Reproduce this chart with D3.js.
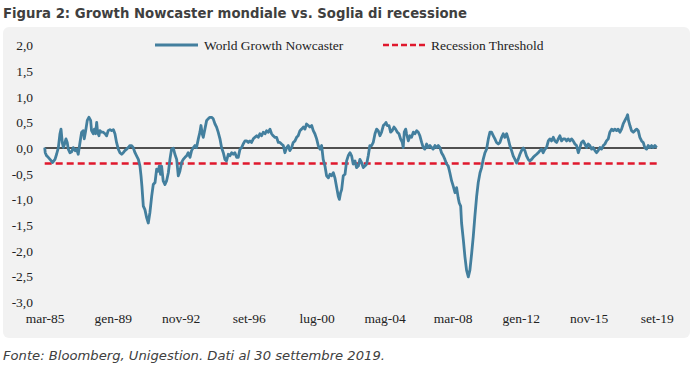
<!DOCTYPE html>
<html>
<head>
<meta charset="utf-8">
<script src="https://cdn.jsdelivr.net/npm/d3@7"></script>
<style>
  body { margin: 0; background: #fff; }
</style>
</head>
<body>
<script>
// dates as decimal years
const dates = [
  1985.17, 1985.20, 1985.28, 1985.37, 1985.47, 1985.62, 1985.75, 1985.84, 1985.94, 1986.03,
  1986.09, 1986.16, 1986.22, 1986.29, 1986.37, 1986.44, 1986.50, 1986.59, 1986.69, 1986.78,
  1986.88, 1986.97, 1987.06, 1987.16, 1987.25, 1987.35, 1987.40, 1987.48, 1987.57, 1987.66,
  1987.76, 1987.81, 1987.91, 1987.97, 1988.04, 1988.10, 1988.15, 1988.23, 1988.28, 1988.38,
  1988.47, 1988.57, 1988.66, 1988.75, 1988.85, 1988.94, 1989.04, 1989.13, 1989.22, 1989.32,
  1989.41, 1989.51, 1989.60, 1989.69, 1989.79, 1989.88, 1989.98, 1990.07, 1990.16, 1990.26,
  1990.35, 1990.45, 1990.54, 1990.60, 1990.65, 1990.73, 1990.82, 1990.92, 1991.01, 1991.10,
  1991.20, 1991.29, 1991.39, 1991.48, 1991.57, 1991.63, 1991.70, 1991.76, 1991.85, 1991.95,
  1992.04, 1992.14, 1992.23, 1992.32, 1992.42, 1992.51, 1992.61, 1992.70, 1992.79, 1992.89,
  1992.98, 1993.08, 1993.17, 1993.26, 1993.36, 1993.45, 1993.55, 1993.64,
  1993.73, 1993.83, 1993.92, 1993.98, 1994.05, 1994.11, 1994.20, 1994.30, 1994.39, 1994.48,
  1994.58, 1994.67, 1994.77, 1994.86, 1994.95, 1995.05, 1995.14, 1995.24, 1995.33, 1995.42,
  1995.52, 1995.61, 1995.71, 1995.80, 1995.89, 1995.99, 1996.08, 1996.18, 1996.27, 1996.36,
  1996.46, 1996.55, 1996.65, 1996.74, 1996.83, 1996.93, 1997.02, 1997.12, 1997.21, 1997.30,
  1997.40, 1997.49, 1997.59, 1997.68, 1997.77, 1997.87, 1997.96, 1998.05, 1998.15, 1998.24,
  1998.34, 1998.43, 1998.52, 1998.62, 1998.71, 1998.81, 1998.90, 1998.99, 1999.09, 1999.18,
  1999.28, 1999.37, 1999.46, 1999.56, 1999.65, 1999.75, 1999.84, 1999.93, 2000.03, 2000.12,
  2000.22, 2000.31, 2000.40, 2000.50, 2000.59, 2000.69, 2000.78, 2000.87, 2000.97, 2001.06,
  2001.16, 2001.25, 2001.34, 2001.44, 2001.53, 2001.63, 2001.72, 2001.78, 2001.85, 2001.91,
  2002.00, 2002.10, 2002.19, 2002.28, 2002.38, 2002.47, 2002.56, 2002.66, 2002.75, 2002.85,
  2002.94, 2003.03, 2003.13, 2003.22, 2003.32, 2003.41, 2003.50, 2003.60, 2003.69, 2003.79,
  2003.88, 2003.97, 2004.07, 2004.16, 2004.26, 2004.35, 2004.41, 2004.48, 2004.58, 2004.67,
  2004.76, 2004.86, 2004.95, 2005.05, 2005.14, 2005.23, 2005.33, 2005.38, 2005.44, 2005.52,
  2005.57, 2005.67, 2005.76, 2005.85, 2005.95, 2006.04, 2006.14, 2006.23, 2006.32, 2006.42,
  2006.51, 2006.60, 2006.70, 2006.79, 2006.89, 2006.98, 2007.07, 2007.17, 2007.26, 2007.36,
  2007.45, 2007.54, 2007.64, 2007.73, 2007.83, 2007.92, 2008.01, 2008.11, 2008.20, 2008.30,
  2008.39, 2008.48, 2008.54, 2008.62, 2008.67, 2008.77, 2008.86, 2008.95, 2009.05, 2009.14,
  2009.24, 2009.33, 2009.42, 2009.52, 2009.61, 2009.71, 2009.80, 2009.89, 2009.99, 2010.08,
  2010.18, 2010.27,
  2010.36, 2010.46, 2010.55, 2010.64, 2010.74, 2010.83, 2010.93, 2011.02, 2011.11, 2011.21,
  2011.30, 2011.39, 2011.49, 2011.58, 2011.68, 2011.77, 2011.86, 2011.96, 2012.05, 2012.15,
  2012.24, 2012.33, 2012.43, 2012.52, 2012.62, 2012.71, 2012.80, 2012.90, 2012.99, 2013.09,
  2013.18, 2013.27, 2013.37, 2013.46, 2013.56, 2013.65, 2013.74, 2013.84, 2013.93, 2014.03,
  2014.12, 2014.21, 2014.31, 2014.40, 2014.50, 2014.59, 2014.68, 2014.78, 2014.87, 2014.96,
  2015.06, 2015.15, 2015.25, 2015.34, 2015.43, 2015.53, 2015.62, 2015.72, 2015.81, 2015.90,
  2016.00, 2016.09, 2016.19, 2016.28, 2016.37, 2016.47, 2016.56, 2016.66, 2016.75, 2016.84,
  2016.94, 2017.03, 2017.13, 2017.22, 2017.31, 2017.41, 2017.50, 2017.60, 2017.69, 2017.78,
  2017.88, 2017.97, 2018.03, 2018.08, 2018.16, 2018.25, 2018.35, 2018.44, 2018.54, 2018.63,
  2018.72, 2018.82, 2018.91, 2019.00, 2019.10, 2019.19, 2019.29, 2019.38, 2019.47, 2019.57,
  2019.67
]

const nowcaster = [
  0.01, -0.09, -0.15, -0.18, -0.22, -0.28, -0.22, -0.12, 0.01, 0.28,
  0.37, 0.11, 0.01, 0.08, 0.18, 0.11, -0.02, -0.09, -0.07, 0.01,
  -0.05, -0.02, -0.12, 0.11, 0.31, 0.34, 0.18, 0.34, 0.54, 0.60,
  0.54, 0.34, 0.28, 0.37, 0.28, 0.50, 0.31, 0.24, 0.34, 0.31,
  0.31, 0.28, 0.24, 0.34, 0.36, 0.34, 0.36, 0.28, 0.11, -0.02,
  -0.09, -0.12, -0.09, -0.05, -0.02, 0.01, 0.05, 0.05, 0.01, -0.09,
  -0.15, -0.22, -0.35, -0.54, -0.74, -1.13, -1.20, -1.36, -1.46, -1.26,
  -0.94, -0.71, -0.67, -0.41, -0.45, -0.35, -0.51, -0.35, -0.64, -0.71,
  -0.64, -0.48, -0.22, -0.02, 0.00, -0.12, -0.22, -0.54, -0.45, -0.28,
  -0.22, -0.18, -0.15, -0.09, -0.18, -0.05, 0.01, 0.05,
  0.01, 0.18, 0.31, 0.44, 0.28, 0.21, 0.37, 0.54, 0.57, 0.60,
  0.60, 0.57, 0.47, 0.41, 0.31, 0.18, 0.01, -0.09, -0.22, -0.25,
  -0.12, -0.15, -0.09, -0.12, -0.09, -0.18, -0.18, -0.02, 0.01, 0.08,
  0.14, 0.14, 0.11, 0.14, 0.11, 0.18, 0.21, 0.24, 0.21, 0.28,
  0.24, 0.31, 0.28, 0.34, 0.31, 0.37, 0.28, 0.24, 0.21, 0.21,
  0.11, 0.11, 0.08, 0.05, -0.09, 0.01, 0.05, -0.05, 0.01, 0.11,
  0.14, 0.21, 0.24, 0.34, 0.37, 0.41, 0.37, 0.47, 0.44, 0.41,
  0.44, 0.34, 0.28, 0.18, 0.05, -0.02, 0.05, -0.22, -0.35, -0.54,
  -0.58, -0.51, -0.54, -0.48, -0.58, -0.77, -0.94, -1.00, -0.87, -0.81,
  -0.54, -0.51, -0.25, -0.15, -0.09, -0.15, -0.31, -0.25, -0.38, -0.35,
  -0.22, -0.28, -0.38, -0.35, -0.31, -0.15, 0.05, 0.05, 0.11, 0.28,
  0.37, 0.34, 0.24, 0.31, 0.44, 0.47, 0.50, 0.44, 0.44, 0.31,
  0.34, 0.41, 0.37, 0.31, 0.28, 0.18, 0.11, 0.01, 0.31, 0.37,
  0.28, 0.14, 0.24, 0.21, 0.31, 0.28, 0.34, 0.31, 0.24, 0.11,
  0.01, -0.02, 0.08, 0.01, 0.05, 0.01, -0.02, 0.05, 0.01, 0.05,
  0.01, -0.09, -0.15, -0.22, -0.31, -0.35, -0.48, -0.64, -0.74, -0.87,
  -0.77, -0.97, -1.07, -1.13, -1.46, -1.79, -2.12, -2.38, -2.51, -2.38,
  -2.05, -1.72, -1.33, -0.94, -0.67, -0.48, -0.38, -0.22, -0.09, -0.02,
  0.18, 0.31,
  0.31, 0.24, 0.18, 0.11, 0.08, 0.11, 0.21, 0.28, 0.21, 0.28,
  0.18, 0.05, -0.05, -0.15, -0.22, -0.29, -0.22, -0.12, -0.05, 0.00,
  -0.05, -0.15, -0.22, -0.25, -0.22, -0.18, -0.15, -0.12, -0.09, -0.05,
  -0.02, -0.09, -0.02, 0.01, 0.14, 0.18, 0.14, 0.21, 0.14, 0.11,
  0.18, 0.24, 0.14, 0.18, 0.18, 0.14, 0.18, 0.14, 0.18, 0.14,
  0.08, 0.05, -0.09, 0.01, 0.11, 0.14, 0.08, 0.01, 0.08, 0.05,
  -0.02, 0.01, -0.05, -0.09, -0.05, 0.01, -0.02, 0.05, 0.08, 0.14,
  0.18, 0.31, 0.37, 0.34, 0.37, 0.34, 0.37, 0.31, 0.37, 0.47,
  0.54, 0.60, 0.65, 0.54, 0.44, 0.34, 0.31, 0.34, 0.37, 0.34,
  0.21, 0.14, 0.11, 0.01, -0.02, 0.05, 0.01, 0.05, 0.01, 0.05,
  0.01
]

const threshold = -0.3
const yTicks = [2, 1.5, 1, 0.5, 0, -0.5, -1, -1.5, -2, -2.5, -3]
const xTickDates = [1985.17, 1989.0, 1992.83, 1996.67, 2000.5, 2004.33, 2008.17, 2012.0, 2015.83, 2019.67]
const xTickLabels = ['mar-85', 'gen-89', 'nov-92', 'set-96', 'lug-00', 'mag-04', 'mar-08', 'gen-12', 'nov-15', 'set-19']
const seriesNames = ['World Growth Nowcaster', 'Recession Threshold']

const W = 693, H = 366
const lineColor = '#437f9e'
const redColor = '#e0182d'

const svg = d3.select('body').append('svg')
  .attr('width', W)
  .attr('height', H)

// grey panel
svg.append('rect')
  .attr('x', 3).attr('y', 27)
  .attr('width', 687).attr('height', 311)
  .attr('rx', 6)
  .style('fill', '#f2f2f2')

// title
svg.append('text')
  .attr('x', 3)
  .attr('y', 18)
  .style('font-family', 'Tahoma, "DejaVu Sans", sans-serif')
  .style('font-weight', 'bold')
  .style('font-size', '14.5px')
  .style('fill', '#3f3f3f')
  .attr('textLength', 464)
  .attr('lengthAdjust', 'spacingAndGlyphs')
  .text('Figura 2: Growth Nowcaster mondiale vs. Soglia di recessione')

// footer
svg.append('text')
  .attr('x', 3)
  .attr('y', 360)
  .style('font-family', 'Tahoma, "DejaVu Sans", sans-serif')
  .style('font-style', 'italic')
  .style('font-size', '13px')
  .style('fill', '#404040')
  .attr('textLength', 382)
  .attr('lengthAdjust', 'spacingAndGlyphs')
  .text('Fonte: Bloomberg, Unigestion. Dati al 30 settembre 2019.')

const xScale = d3.scaleLinear()
  .domain([dates[0], dates[dates.length - 1]])
  .range([44.7, 656.7])

const yScale = d3.scaleLinear()
  .domain([-3, 2])
  .range([302, 45.5])

const serif = '"Liberation Serif", "Times New Roman", serif'
const labelSize = '13.5px'

// y axis
const yAxis = svg.append('g')
  .attr('class', 'y axis')
  .attr('transform', 'translate(33, 0)')
  .call(d3.axisLeft(yScale)
    .tickValues(yTicks)
    .tickSize(0)
    .tickPadding(0)
    .tickFormat(d => d3.format('.1f')(d).replace('.', ',').replace('−', '-')))
yAxis.select('.domain').remove()
yAxis.selectAll('text')
  .style('font-family', serif)
  .style('font-size', labelSize)
  .style('fill', '#222')

// x axis
const xAxis = svg.append('g')
  .attr('class', 'x axis')
  .attr('transform', 'translate(0, 311)')
  .call(d3.axisBottom(xScale)
    .tickValues(xTickDates)
    .tickSize(0)
    .tickPadding(2)
    .tickFormat((d, i) => xTickLabels[i]))
xAxis.select('.domain').remove()
xAxis.selectAll('text')
  .style('font-family', serif)
  .style('font-size', labelSize)
  .style('fill', '#222')

// zero line
svg.append('line')
  .attr('x1', xScale(dates[0]))
  .attr('x2', xScale(dates[dates.length - 1]))
  .attr('y1', yScale(0))
  .attr('y2', yScale(0))
  .style('stroke', '#1a1a1a')
  .style('stroke-width', 1.5)

// recession threshold
svg.append('line')
  .attr('x1', xScale(dates[0]))
  .attr('x2', xScale(dates[dates.length - 1]))
  .attr('y1', yScale(threshold))
  .attr('y2', yScale(threshold))
  .style('stroke', redColor)
  .style('stroke-width', 2.5)
  .style('stroke-dasharray', '7,4')

// nowcaster line
const line = d3.line()
  .x((d, i) => xScale(dates[i]))
  .y(d => yScale(d))

svg.append('path')
  .datum(nowcaster)
  .attr('d', line)
  .style('fill', 'none')
  .style('stroke', lineColor)
  .style('stroke-width', 2.8)
  .style('stroke-linejoin', 'round')

// legend
const legend = svg.append('g').attr('class', 'legend')
legend.append('line')
  .attr('x1', 155).attr('x2', 198)
  .attr('y1', 45).attr('y2', 45)
  .style('stroke', lineColor)
  .style('stroke-width', 2.8)
legend.append('text')
  .attr('x', 204).attr('y', 49.5)
  .style('font-family', serif)
  .style('font-size', labelSize)
  .style('fill', '#222')
  .text(seriesNames[0])
legend.append('line')
  .attr('x1', 383).attr('x2', 428)
  .attr('y1', 45).attr('y2', 45)
  .style('stroke', redColor)
  .style('stroke-width', 2.5)
  .style('stroke-dasharray', '6,3')
legend.append('text')
  .attr('x', 431).attr('y', 49.5)
  .style('font-family', serif)
  .style('font-size', labelSize)
  .style('fill', '#222')
  .text(seriesNames[1])
</script>
</body>
</html>
